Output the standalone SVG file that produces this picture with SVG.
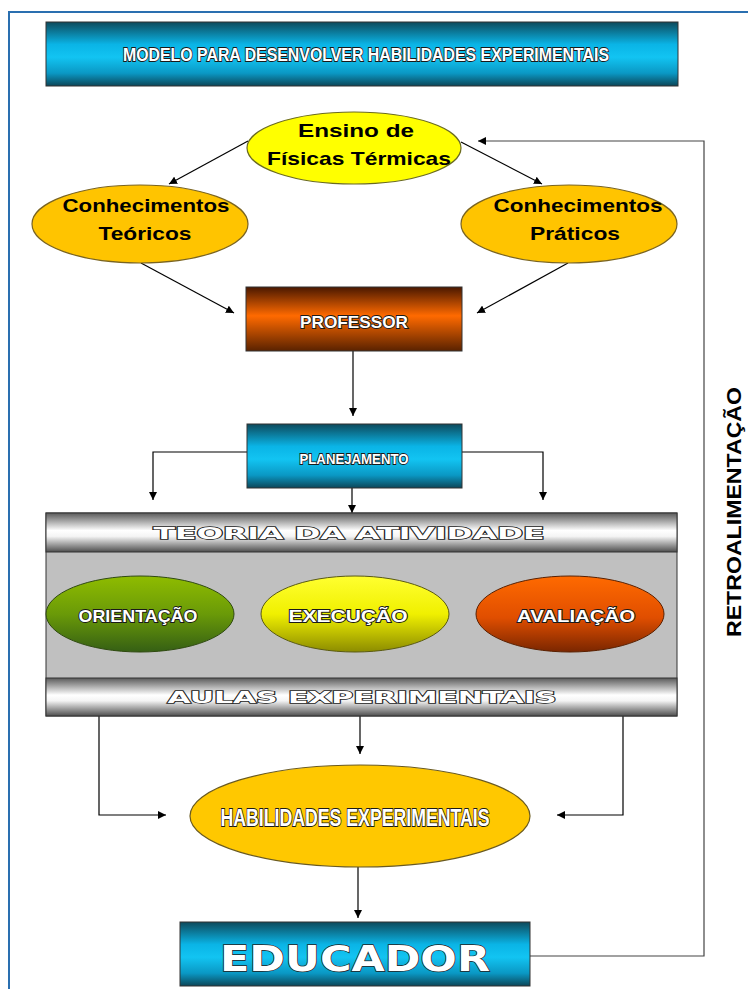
<svg xmlns="http://www.w3.org/2000/svg" width="748" height="989" viewBox="0 0 748 989">
<style>
.out{fill:#fff;stroke:#1a1a1a;stroke-width:1.8;paint-order:stroke fill;font-family:"Liberation Sans",Arial,sans-serif;font-weight:bold;text-anchor:middle}
.wide{fill:#fff;stroke:#222;stroke-width:1.4;paint-order:stroke fill;font-family:"DejaVu Sans",sans-serif;font-weight:bold;text-anchor:middle}
.blk{fill:#000;font-family:"Liberation Sans",Arial,sans-serif;font-weight:bold;text-anchor:middle}
.ln{fill:none;stroke:#000;stroke-width:1.2}
.fb{fill:none;stroke:#444;stroke-width:1.2}
.edge{stroke:#333;stroke-width:1}
</style>
<defs>
<linearGradient id="cyan" x1="0" y1="0" x2="0" y2="1">
<stop offset="0" stop-color="#0d4a5c"/><stop offset="0.35" stop-color="#0ab4e6"/><stop offset="0.55" stop-color="#12c4f2"/><stop offset="0.8" stop-color="#0a98c4"/><stop offset="1" stop-color="#0c4658"/>
</linearGradient>
<linearGradient id="orange" x1="0" y1="0" x2="0" y2="1">
<stop offset="0" stop-color="#4a1800"/><stop offset="0.45" stop-color="#ff6a00"/><stop offset="1" stop-color="#5a2200"/>
</linearGradient>
<linearGradient id="metal" x1="0" y1="0" x2="0" y2="1">
<stop offset="0" stop-color="#5a5a5a"/><stop offset="0.45" stop-color="#ffffff"/><stop offset="0.6" stop-color="#f4f4f4"/><stop offset="1" stop-color="#4e4e4e"/>
</linearGradient>
<linearGradient id="green" x1="0" y1="0" x2="0" y2="1">
<stop offset="0" stop-color="#8fbc00"/><stop offset="0.5" stop-color="#6a9a08"/><stop offset="1" stop-color="#355f14"/>
</linearGradient>
<linearGradient id="yel" x1="0" y1="0" x2="0" y2="1">
<stop offset="0" stop-color="#ffff30"/><stop offset="0.5" stop-color="#f0f000"/><stop offset="1" stop-color="#8c8c00"/>
</linearGradient>
<linearGradient id="org" x1="0" y1="0" x2="0" y2="1">
<stop offset="0" stop-color="#ff6a00"/><stop offset="0.55" stop-color="#e04e00"/><stop offset="1" stop-color="#7a2600"/>
</linearGradient>
<marker id="ah" viewBox="0 0 10 10" refX="10" refY="5" markerWidth="8" markerHeight="8" markerUnits="userSpaceOnUse" orient="auto">
<path d="M0,0 L10,5 L0,10 z" fill="#000"/>
</marker>
</defs>
<rect width="748" height="989" fill="#fff"/>
<rect x="9" y="12" width="760" height="1000" fill="none" stroke="#2a6fb0" stroke-width="2"/>

<g id="connectors">
<line class="ln" x1="248" y1="141" x2="169" y2="184" marker-end="url(#ah)"/>
<line class="ln" x1="461" y1="142" x2="542" y2="184" marker-end="url(#ah)"/>
<line class="ln" x1="141" y1="263" x2="234" y2="313" marker-end="url(#ah)"/>
<line class="ln" x1="568" y1="263" x2="477" y2="313" marker-end="url(#ah)"/>
<line class="ln" x1="353" y1="351" x2="353" y2="416" marker-end="url(#ah)"/>
<polyline class="ln" points="247,452 153,452 153,500" marker-end="url(#ah)"/>
<polyline class="ln" points="462,452 543,452 543,500" marker-end="url(#ah)"/>
<line class="ln" x1="352" y1="488" x2="352" y2="513" marker-end="url(#ah)"/>
<line class="ln" x1="360" y1="716" x2="360" y2="754" marker-end="url(#ah)"/>
<polyline class="ln" points="99,716 99,815 166,815" marker-end="url(#ah)"/>
<polyline class="ln" points="623,716 623,815 557,815" marker-end="url(#ah)"/>
<line class="ln" x1="358" y1="867" x2="358" y2="918" marker-end="url(#ah)"/>
<polyline class="fb" points="530,956 704,956 704,141 478,141" marker-end="url(#ah)"/>
</g>

<g id="title">
<rect x="46" y="22" width="632" height="64" fill="url(#cyan)" class="edge"/>
<text class="out" x="366" y="61" font-size="19" textLength="486" lengthAdjust="spacingAndGlyphs">MODELO PARA DESENVOLVER HABILIDADES EXPERIMENTAIS</text>
</g>

<g id="ensino">
<ellipse cx="354" cy="148" rx="107" ry="36" fill="#ffff00" stroke="#6b6b20" stroke-width="1.2"/>
<text class="blk" x="356" y="137" font-size="19" textLength="116" lengthAdjust="spacingAndGlyphs">Ensino de</text>
<text class="blk" x="359" y="165" font-size="19" textLength="184" lengthAdjust="spacingAndGlyphs">Físicas Térmicas</text>
</g>

<g id="teoricos">
<ellipse cx="140" cy="224" rx="108" ry="39" fill="#ffc400" stroke="#7a6420" stroke-width="1.2"/>
<text class="blk" x="146" y="212" font-size="19" textLength="167" lengthAdjust="spacingAndGlyphs">Conhecimentos</text>
<text class="blk" x="145" y="240" font-size="19" textLength="93" lengthAdjust="spacingAndGlyphs">Teóricos</text>
</g>

<g id="praticos">
<ellipse cx="569" cy="224" rx="108" ry="39" fill="#ffc400" stroke="#7a6420" stroke-width="1.2"/>
<text class="blk" x="578" y="212" font-size="19" textLength="169" lengthAdjust="spacingAndGlyphs">Conhecimentos</text>
<text class="blk" x="575" y="240" font-size="19" textLength="90" lengthAdjust="spacingAndGlyphs">Práticos</text>
</g>

<g id="professor">
<rect x="246" y="287" width="216" height="64" fill="url(#orange)" class="edge"/>
<text class="out" x="354" y="328" font-size="17" textLength="108" lengthAdjust="spacingAndGlyphs">PROFESSOR</text>
</g>

<g id="planejamento">
<rect x="247" y="424" width="215" height="64" fill="url(#cyan)" class="edge"/>
<text class="out" x="354" y="464" font-size="15" textLength="109" lengthAdjust="spacingAndGlyphs">PLANEJAMENTO</text>
</g>

<g id="teoria">
<rect x="46" y="513" width="631" height="203" fill="#c0c0c0" class="edge"/>
<rect x="46" y="513" width="631" height="39" fill="url(#metal)" class="edge"/>
<rect x="46" y="678" width="631" height="38" fill="url(#metal)" class="edge"/>
<text class="wide" x="349" y="539" font-size="16" textLength="391" lengthAdjust="spacingAndGlyphs">TEORIA DA ATIVIDADE</text>
<text class="wide" x="362" y="703" font-size="16" textLength="389" lengthAdjust="spacingAndGlyphs">AULAS EXPERIMENTAIS</text>
</g>

<g id="orientacao">
<ellipse cx="140" cy="614" rx="94" ry="38" fill="url(#green)" stroke="#2f4a10" stroke-width="1"/>
<text class="out" x="138" y="622" font-size="17" textLength="119" lengthAdjust="spacingAndGlyphs">ORIENTAÇÃO</text>
</g>

<g id="execucao">
<ellipse cx="355" cy="614" rx="94" ry="38" fill="url(#yel)" stroke="#5a5a10" stroke-width="1"/>
<text class="out" x="348" y="622" font-size="17" textLength="119" lengthAdjust="spacingAndGlyphs">EXECUÇÃO</text>
</g>

<g id="avaliacao">
<ellipse cx="570" cy="614" rx="94" ry="38" fill="url(#org)" stroke="#5a2000" stroke-width="1"/>
<text class="out" x="576" y="622" font-size="17" textLength="118" lengthAdjust="spacingAndGlyphs">AVALIAÇÃO</text>
</g>

<g id="habilidades">
<ellipse cx="360" cy="816" rx="170" ry="51" fill="#ffc800" stroke="#6a5a20" stroke-width="1.2"/>
<text class="out" x="355" y="826" font-size="24" textLength="269" lengthAdjust="spacingAndGlyphs" stroke-width="2">HABILIDADES EXPERIMENTAIS</text>
</g>

<g id="educador">
<rect x="180" y="922" width="350" height="64" fill="url(#cyan)" class="edge"/>
<text class="wide" x="355" y="971" font-size="36" textLength="270" lengthAdjust="spacingAndGlyphs" stroke-width="2">EDUCADOR</text>
</g>

<g id="retro">
<text class="blk" x="0" y="0" font-size="20" font-family="Open Sans, sans-serif" textLength="250" lengthAdjust="spacingAndGlyphs" transform="translate(741,512) rotate(-90)">RETROALIMENTAÇÃO</text>
</g>
</svg>
